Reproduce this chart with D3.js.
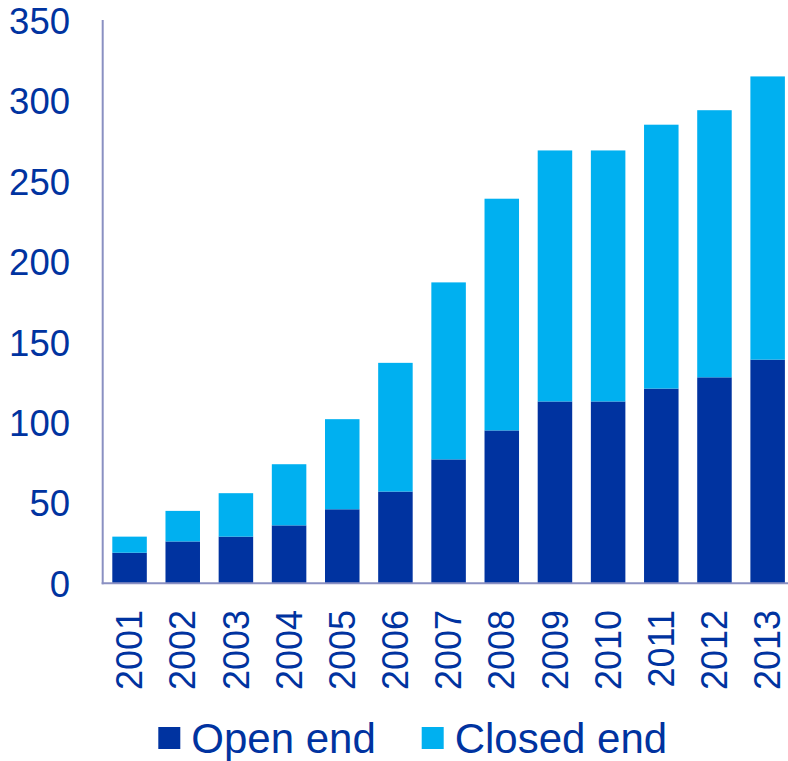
<!DOCTYPE html>
<html><head><meta charset="utf-8">
<script src="https://cdn.jsdelivr.net/npm/d3@7"></script>
<style>body{margin:0;background:#fff}svg{display:block;font-family:"Liberation Sans",Arial,sans-serif}</style>
</head><body><svg id="c" width="788" height="761"></svg>
<script>
const years = ["2001","2002","2003","2004","2005","2006","2007","2008","2009","2010","2011","2012","2013"];
const openEnd = [19, 26, 29, 36, 46, 57, 77, 95, 113, 113, 121, 128, 139];
const closedEnd = [10, 19, 27, 38, 56, 80, 110, 144, 156, 156, 164, 166, 176];
const yTicks = [0, 50, 100, 150, 200, 250, 300, 350];
const seriesNames = ["Open end", "Closed end"];
const colors = ["#0033a0", "#00b0f0"];
const textColor = "#0033a0";
const axisColor = "#8a90c2";

const svg = d3.select("#c");
const x = d3.scaleBand().domain(years).range([103, 794.2]).paddingInner(0.351).paddingOuter(0.175);
const y = d3.scaleLinear().domain([0, 350]).range([583.3, 20.1]);

const rows = years.map((yr, i) => ({year: yr, "Open end": openEnd[i], "Closed end": closedEnd[i]}));
const stack = d3.stack().keys(seriesNames)(rows);

svg.append("g").selectAll("g").data(stack).join("g")
  .attr("fill", (d, i) => colors[i])
  .selectAll("rect").data(d => d).join("rect")
  .attr("x", d => x(d.data.year))
  .attr("width", x.bandwidth())
  .attr("y", d => y(d[1]))
  .attr("height", d => y(d[0]) - y(d[1]));

// axes lines
svg.append("line").attr("x1", 102.7).attr("x2", 102.7).attr("y1", 20).attr("y2", 584.3)
  .attr("stroke", axisColor).attr("stroke-width", 2);
svg.append("line").attr("x1", 101.7).attr("x2", 788).attr("y1", 583.3).attr("y2", 583.3)
  .attr("stroke", axisColor).attr("stroke-width", 2);

// y tick labels
const yAxis = d3.axisLeft(y).tickValues(yTicks).tickSize(0).tickPadding(0);
const gy = svg.append("g").attr("transform", "translate(70,0)").call(yAxis);
gy.select(".domain").remove();
gy.selectAll("text").attr("fill", textColor).style("font-size", "36.5px")
  .attr("font-family", "Liberation Sans, Arial, sans-serif").attr("dy", "0.36em");

// x tick labels
const xAxis = d3.axisBottom(x).tickSize(0).tickPadding(0);
const gx = svg.append("g").attr("transform", "translate(0,0)").call(xAxis);
gx.select(".domain").remove();
gx.selectAll("text").attr("fill", textColor).style("font-size", "36px")
  .attr("font-family", "Liberation Sans, Arial, sans-serif")
  .attr("text-anchor", "end").attr("dy", null).attr("y", 0)
  .attr("transform", "translate(0,610) rotate(-90)")
  .attr("x", 0).attr("dy", "0.35em");

// legend
const legendX = [158.3, 421.7];
const lg = svg.append("g").selectAll("g").data(seriesNames).join("g")
  .attr("transform", (d, i) => `translate(${legendX[i]},727)`);
lg.append("rect").attr("width", 22).attr("height", 22).attr("fill", (d, i) => colors[i]);
lg.append("text").attr("x", 33).attr("y", 11).attr("dy", "0.36em")
  .attr("fill", textColor).style("font-size", "42px").text(d => d);
</script></body></html>
